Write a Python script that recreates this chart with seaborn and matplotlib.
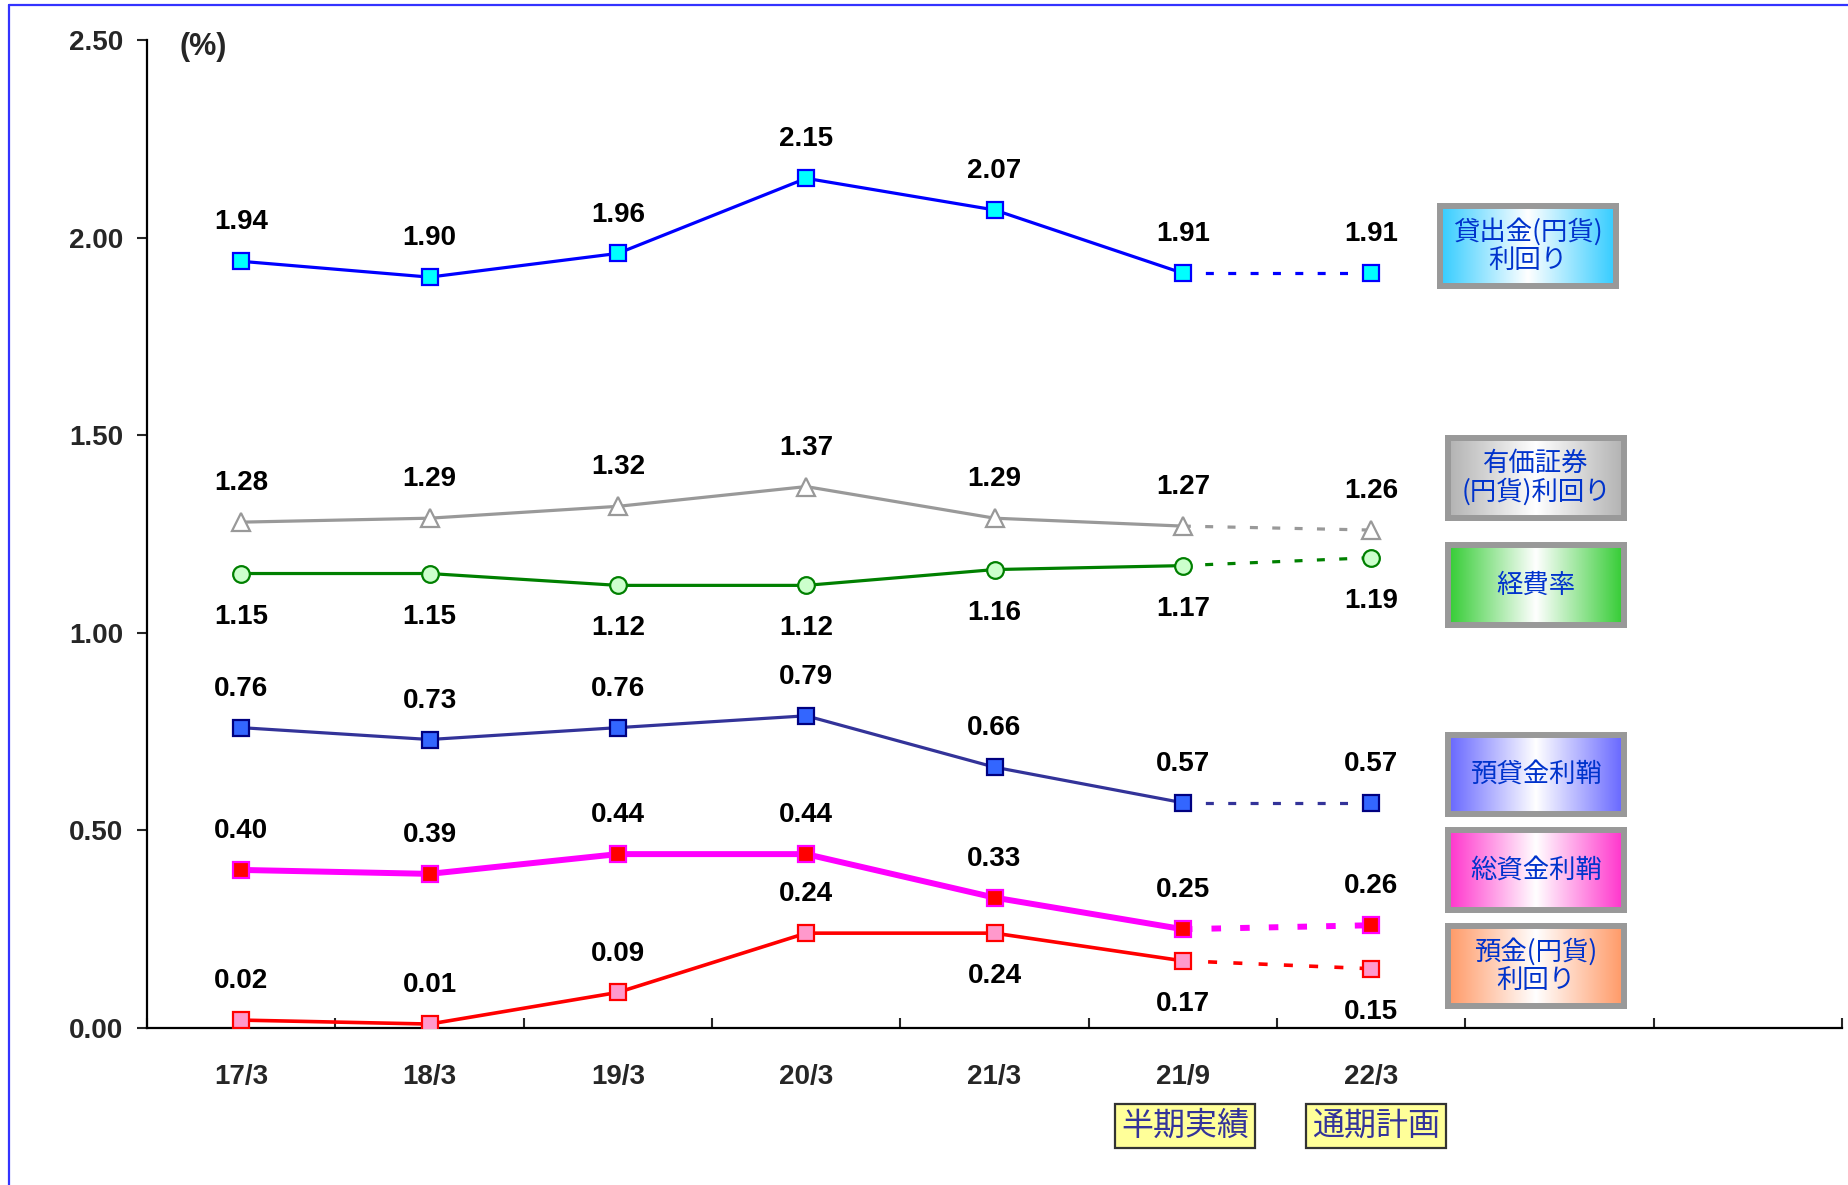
import numpy as np
import pandas as pd
import matplotlib
matplotlib.use("Agg")
import matplotlib.pyplot as plt
import seaborn as sns
from matplotlib.colors import LinearSegmentedColormap
from matplotlib.lines import Line2D

# =========================================================
# DATA
# =========================================================
periods = ["17/3", "18/3", "19/3", "20/3", "21/3", "21/9", "22/3"]

loan_yield = [1.94, 1.90, 1.96, 2.15, 2.07, 1.91, 1.91]
securities_yield = [1.28, 1.29, 1.32, 1.37, 1.29, 1.27, 1.26]
expense_ratio = [1.15, 1.15, 1.12, 1.12, 1.16, 1.17, 1.19]
loan_deposit_margin = [0.76, 0.73, 0.76, 0.79, 0.66, 0.57, 0.57]
overall_margin = [0.40, 0.39, 0.44, 0.44, 0.33, 0.25, 0.26]
deposit_yield = [0.02, 0.01, 0.09, 0.24, 0.24, 0.17, 0.15]

legend_labels = [
    "貸出金(円貨)\n利回り",
    "有価証券\n(円貨)利回り",
    "経費率",
    "預貸金利鞘",
    "総資金利鞘",
    "預金(円貨)\n利回り",
]

period_notes = ["半期実績", "通期計画"]

# =========================================================
# STYLE
# =========================================================
W, H = 1848, 1185

sns.set_theme(style="ticks")
plt.rcParams["font.family"] = ["Liberation Sans", "Noto Sans CJK JP", "DejaVu Sans"]

NUM_SIZE = 20
NUM_WEIGHT = "bold"

series = [
    # values, line colour, lw, marker, face, edge, ms, labels below
    (loan_yield, "#0000FF", 2.3, "s", "#00FFFF", "#0000FF", 11, []),
    (securities_yield, "#999999", 2.3, "^", "white", "#999999", 13, []),
    (expense_ratio, "#008000", 2.3, "o", "#CCFFCC", "#008000", 12, [0, 1, 2, 3, 4, 5, 6]),
    (loan_deposit_margin, "#333399", 2.3, "s", "#3366FF", "#000080", 11, []),
    (overall_margin, "#FF00FF", 4.3, "s", "#FF0000", "#FF00FF", 11, []),
    (deposit_yield, "#FF0000", 2.6, "s", "#FF99CC", "#FF0000", 11, [4, 5, 6]),
]

box_colors = ["#33CCFF", "#B2B2B2", "#33CC33", "#6666FF", "#FF33CC", "#FF9966"]
box_lefts = [1440, 1448, 1448, 1448, 1448, 1448]
box_rights = [1616, 1624, 1624, 1624, 1624, 1624]
box_tops = [206, 438, 545, 735, 830, 926]
box_bottoms = [286, 518, 625, 814, 910, 1006]

# =========================================================
# FIGURE
# =========================================================
fig = plt.figure(figsize=(W / 100, H / 100), dpi=100)
ax = fig.add_axes([147 / W, 1 - 1028 / H, (1842 - 147) / W, (1028 - 40) / H])

x = np.arange(len(periods))

for vals, lc, lw, mk, fc, ec, ms, below in series:
    df = pd.DataFrame({"x": x[:6], "y": vals[:6]})
    sns.lineplot(
        data=df, x="x", y="y", ax=ax, color=lc, linewidth=lw,
        marker=mk, markersize=ms, markerfacecolor=fc,
        markeredgecolor=ec, markeredgewidth=1.6, sort=False, zorder=3
    )
    dash = (0, (1.6, 3.2)) if lw > 4 else (0, (2.5, 4.5))
    ax.plot(x[5:7], vals[5:7], color=lc, linewidth=lw, linestyle=dash, zorder=2)
    ax.plot(x[6], vals[6], marker=mk, markersize=ms, markerfacecolor=fc,
            markeredgecolor=ec, markeredgewidth=1.6, zorder=4, linestyle="none")

    for i, v in enumerate(vals):
        off = -31 if i in below else 28
        ax.annotate(f"{v:.2f}", (x[i], v), xytext=(0, off), textcoords="offset points",
                    ha="center", va="center", fontsize=NUM_SIZE, color="black",
                    fontweight=NUM_WEIGHT)

# =========================================================
# AXES
# =========================================================
ax.set_xlim(-0.5, 8.5)
ax.set_ylim(0, 2.5)
ax.set_yticks(np.arange(0, 2.51, 0.5))
ax.set_yticklabels([f"{t:.2f}" for t in np.arange(0, 2.51, 0.5)], fontweight=NUM_WEIGHT)
ax.set_xticks(x)
ax.set_xticklabels(periods, fontweight=NUM_WEIGHT)
ax.set_xticks(np.arange(-0.5, 8.6, 1), minor=True)
ax.tick_params(axis="x", which="major", length=0, pad=26, labelsize=NUM_SIZE)
ax.tick_params(axis="x", which="minor", direction="in", length=7, width=1.5)
ax.tick_params(axis="y", direction="out", length=7, width=1.5, pad=10, labelsize=NUM_SIZE)
ax.set_xlabel("")
ax.set_ylabel("")
for s in ["top", "right"]:
    ax.spines[s].set_visible(False)
for s in ["left", "bottom"]:
    ax.spines[s].set_linewidth(1.6)
    ax.spines[s].set_color("black")
ax.grid(False)

fig.text(203 / W, 1 - 47 / H, "(%)", ha="center", va="center", fontsize=22,
         fontweight="bold")

# =========================================================
# GRADIENT LEGEND BOXES
# =========================================================
grad = np.linspace(0, 1, 256)[None, :]
for lab, col, lft, rgt, top, bot in zip(legend_labels, box_colors, box_lefts,
                                        box_rights, box_tops, box_bottoms):
    bax = fig.add_axes([lft / W, 1 - bot / H, (rgt - lft) / W, (bot - top) / H])
    cmap = LinearSegmentedColormap.from_list("g", [col, "white", col])
    bax.imshow(grad, aspect="auto", cmap=cmap, extent=[0, 1, 0, 1])
    bax.set_xticks([])
    bax.set_yticks([])
    for s in bax.spines.values():
        s.set_color("#999999")
        s.set_linewidth(4.3)
        s.set_visible(True)
    bax.text(0.5, 0.5, lab, ha="center", va="center", fontsize=19,
             color="#0033CC", family=["Noto Sans CJK JP"], linespacing=1.05)

# =========================================================
# PERIOD NOTES
# =========================================================
note_x = [1185 / W, 1376 / W]
for nx, note in zip(note_x, period_notes):
    fig.text(nx, 1 - 1126 / H, note, ha="center", va="center", fontsize=23,
             color="#333399", family=["Noto Sans CJK JP"],
             bbox=dict(boxstyle="square,pad=0.18", facecolor="#FFFF99",
                       edgecolor="#333333", linewidth=1.6))

# blue frame
fig.add_artist(Line2D([9 / W, 9 / W], [0, 1 - 5 / H], color="#3333FF", linewidth=1.6))
fig.add_artist(Line2D([9 / W, 1], [1 - 5 / H, 1 - 5 / H], color="#3333FF", linewidth=1.6))

fig.savefig("out.png", dpi=100)
